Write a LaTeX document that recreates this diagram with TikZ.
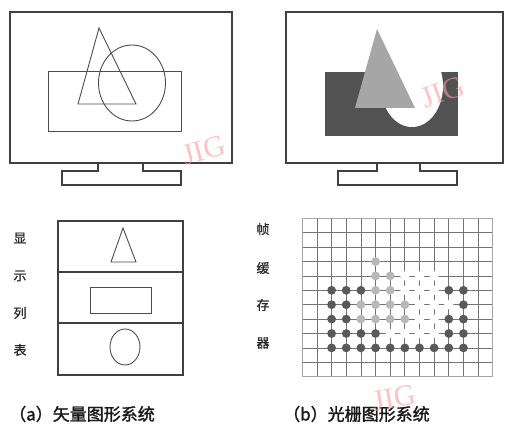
\documentclass[tikz,border=0pt]{standalone}
\usepackage{fontspec}
\newfontfamily\cjk{Noto Sans CJK SC}[FakeBold=0.8]
\newfontfamily\cjkb{Noto Sans CJK SC}[FakeBold=1.6]
\newfontfamily\wm{Liberation Serif}
\tikzset{
  monframe/.style={draw=black!75, line width=2.6pt, line join=miter},
  thinline/.style={draw=black!70, line width=0.9pt},
  listbox/.style={draw=black!75, line width=1.4pt},
  lab/.style={font=\cjk\fontsize{13}{15}\selectfont, text=black!85, inner sep=0pt},
  captxt/.style={font=\cjkb\fontsize{17}{19}\selectfont, text=black!90, inner sep=0pt, anchor=west},
  water/.style={font=\wm\fontsize{30}{30}\selectfont, text=red!40, opacity=0.6, inner sep=0pt},
  gridline/.style={draw=black!55, line width=0.8pt},
  darkdot/.style={fill=black!65},
  lightdot/.style={fill=black!28},
  whitedot/.style={fill=white}
}
\begin{document}
\begin{tikzpicture}[x=1pt,y=-1pt]
\useasboundingbox (0,0) rectangle (506,425);
% ---------- (a) vector monitor ----------
\draw[monframe] (10,12) rectangle (232,163);
\draw[monframe] (98,163) -- (98,171) -- (62,171) -- (62,185) -- (181,185) -- (181,171) -- (143,171) -- (143,163);
\draw[thinline] (48,71) rectangle (181,131);
\draw[thinline] (99,28) -- (78,104) -- (136,104) -- cycle;
\draw[thinline] (132,83) ellipse (33.5 and 38);
% ---------- (b) raster monitor ----------
\draw[monframe] (286,12) rectangle (503,163);
\draw[monframe] (377,163) -- (377,171) -- (338,171) -- (338,185) -- (457,185) -- (457,171) -- (420,171) -- (420,163);
\fill[black!68] (325,72) rectangle (458,136);
\fill[white] (412,86) ellipse (31 and 41);
\fill[black!35] (377,29) -- (355,108) -- (415,108) -- cycle;
% ---------- display list ----------
\draw[listbox] (58,221) rectangle (183,375);
\draw[listbox] (58,272) -- (183,272);
\draw[listbox] (58,323) -- (183,323);
\draw[thinline] (123,228) -- (111,262) -- (136,262) -- cycle;
\draw[thinline] (90,287) rectangle (151,313);
\draw[thinline] (125,347) ellipse (15 and 18);
\node[lab] (l1) at (20,238) {显};
\node[lab] (l2) at (20,276) {示};
\node[lab] (l3) at (20,313) {列};
\node[lab] (l4) at (20,350) {表};
% ---------- frame buffer grid ----------
\def\gx{302.3}\def\gy{218.3}\def\dx{14.65}\def\dy{14.4}
\foreach \i in {0,...,13} \draw[gridline] (\gx+\i*\dx,\gy) -- (\gx+\i*\dx,\gy+11*\dy);
\foreach \j in {0,...,11} \draw[gridline] (\gx,\gy+\j*\dy) -- (\gx+13*\dx,\gy+\j*\dy);
\draw[draw=black!35, line width=0.8pt] (\gx,\gy) rectangle (\gx+13*\dx,\gy+11*\dy);
\foreach \c/\r in {7/4,8/4,9/4,7/5,8/5,9/5,8/6,9/6,10/6,8/7,9/7,6/8,7/8,8/8,9/8}
  \fill[whitedot] (\gx+\c*\dx,\gy+\r*\dy) circle (4.6);
\foreach \c/\r in {5/3,5/4,6/4,5/5,6/5,4/6,5/6,6/6,7/6,4/7,5/7,6/7,7/7}
  \fill[lightdot] (\gx+\c*\dx,\gy+\r*\dy) circle (4.4);
\foreach \c/\r in {2/5,3/5,4/5,10/5,11/5,2/6,3/6,11/6,2/7,3/7,10/7,11/7,2/8,3/8,4/8,5/8,10/8,11/8,2/9,3/9,4/9,5/9,6/9,7/9,8/9,9/9,10/9,11/9}
  \fill[darkdot] (\gx+\c*\dx,\gy+\r*\dy) circle (4.4);
\node[lab] (f1) at (263,229) {帧};
\node[lab] (f2) at (263,268) {缓};
\node[lab] (f3) at (263,305) {存};
\node[lab] (f4) at (263,343) {器};
% ---------- captions ----------
\node[captxt] (ca) at (9,414) {（a）矢量图形系统};
\node[captxt] (cb) at (283,414) {（b）光栅图形系统};
% ---------- watermarks ----------
\node[water, rotate=15] (w1) at (204,150) {JIG};
\node[water, rotate=20] (w2) at (443,92) {JIG};
\node[water, rotate=10] (w3) at (394,398) {JIG};
\end{tikzpicture}
\end{document}
